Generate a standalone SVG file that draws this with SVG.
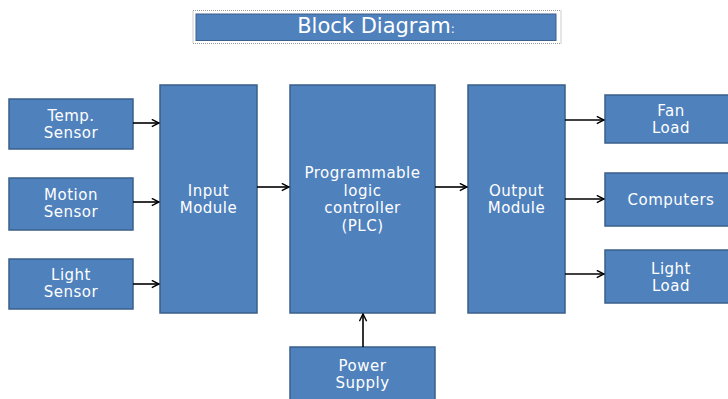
<svg xmlns="http://www.w3.org/2000/svg" width="728" height="399" viewBox="0 0 728 399">
<style>
.box{fill:#4F81BD;stroke:#3A5F8B;stroke-width:1.5}
.t{font-family:"DejaVu Sans",sans-serif;font-size:15px;letter-spacing:0.5px;fill:#FFFFFF;text-anchor:middle}
.c{stroke:#000;stroke-width:1.6;fill:none;marker-end:url(#ah)}
</style>
<defs>
<marker id="ah" viewBox="0 0 10 10" refX="9" refY="5" markerWidth="9" markerHeight="9" markerUnits="userSpaceOnUse" orient="auto">
<path d="M1,1 L9,5 L1,9" fill="none" stroke="#000" stroke-width="1.6"/>
</marker>
</defs>
<rect width="728" height="399" fill="#FFFFFF"/>
<g id="title">
<rect x="193" y="10.5" width="368" height="33" fill="none" stroke="#999" stroke-width="1" stroke-dasharray="1,1"/>
<rect x="196" y="14" width="360" height="26.5" fill="#4F81BD" stroke="#3A5F8B" stroke-width="1"/>
<text x="376" y="33" font-family="DejaVu Sans,sans-serif" font-size="21" fill="#FFFFFF" text-anchor="middle">Block Diagram<tspan font-size="12">:</tspan></text>
</g>
<g id="temp">
<rect class="box" x="9" y="99" width="124" height="50"/>
<text class="t" x="71" y="121">Temp.</text>
<text class="t" x="71" y="138">Sensor</text>
</g>
<g id="motion">
<rect class="box" x="9" y="178" width="124" height="52"/>
<text class="t" x="71" y="200">Motion</text>
<text class="t" x="71" y="217">Sensor</text>
</g>
<g id="light">
<rect class="box" x="9" y="259" width="124" height="50"/>
<text class="t" x="71" y="280">Light</text>
<text class="t" x="71" y="297">Sensor</text>
</g>
<g id="input">
<rect class="box" x="160" y="85" width="97" height="228"/>
<text class="t" x="208.5" y="196">Input</text>
<text class="t" x="208.5" y="213">Module</text>
</g>
<g id="plc">
<rect class="box" x="290" y="85" width="145" height="228"/>
<text class="t" x="362.5" y="178">Programmable</text>
<text class="t" x="362.5" y="195.5">logic</text>
<text class="t" x="362.5" y="213">controller</text>
<text class="t" x="362.5" y="230.5">(PLC)</text>
</g>
<g id="output">
<rect class="box" x="468" y="85" width="97" height="228"/>
<text class="t" x="516.5" y="196">Output</text>
<text class="t" x="516.5" y="213">Module</text>
</g>
<g id="fan">
<rect class="box" x="605" y="95" width="132" height="48"/>
<text class="t" x="671" y="116">Fan</text>
<text class="t" x="671" y="133">Load</text>
</g>
<g id="computers">
<rect class="box" x="605" y="173" width="132" height="53"/>
<text class="t" x="671" y="205">Computers</text>
</g>
<g id="lightload">
<rect class="box" x="605" y="250" width="132" height="53"/>
<text class="t" x="671" y="274">Light</text>
<text class="t" x="671" y="291">Load</text>
</g>
<g id="power">
<rect class="box" x="290" y="347" width="145" height="60"/>
<text class="t" x="362.5" y="371">Power</text>
<text class="t" x="362.5" y="388">Supply</text>
</g>
<g id="connectors">
<path class="c" d="M133,123 H159"/>
<path class="c" d="M133,202 H159"/>
<path class="c" d="M133,284 H159"/>
<path class="c" d="M257,187 H289"/>
<path class="c" d="M435,187 H467"/>
<path class="c" d="M565,120 H604"/>
<path class="c" d="M565,199 H604"/>
<path class="c" d="M565,274 H604"/>
<path class="c" d="M363,347 V314"/>
</g>
</svg>
